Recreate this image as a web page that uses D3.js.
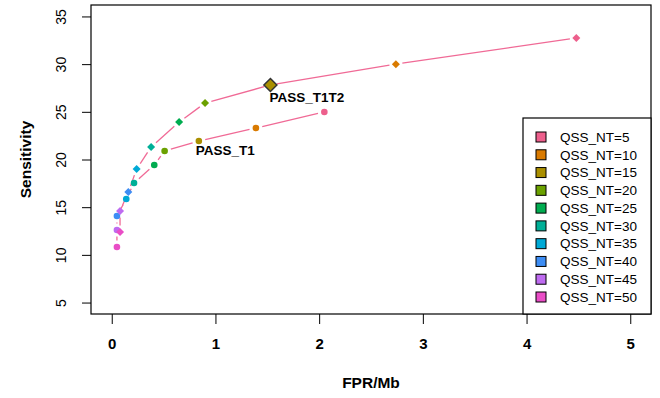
<!DOCTYPE html>
<html>
<head>
<meta charset="utf-8">
<script src="https://cdn.jsdelivr.net/npm/d3@7"></script>
<style>
  body { margin: 0; background: #fff; }
  svg { font-family: 'Liberation Sans', Arial, sans-serif; }
</style>
</head>
<body>
<div id="chart"></div>
<script>
// QSS_NT thresholds and the two filters
const ntLevels = [5, 10, 15, 20, 25, 30, 35, 40, 45, 50]
const ntColors = ['#ED5F8C', '#D97A00', '#AA8F00', '#6BA100', '#00AC50',
  '#00AF97', '#00A9D6', '#3D8DF4', '#BE6BF0', '#E94DC6']

const t1t2Fpr = [4.48, 2.74, 1.53, 0.90, 0.65, 0.38, 0.24, 0.16, 0.08, 0.08]
const t1t2Sens = [32.74, 30.0, 27.81, 25.92, 23.93, 21.31, 19.0, 16.59, 14.6, 12.4]
const t1Fpr = [2.05, 1.39, 0.84, 0.51, 0.41, 0.215, 0.14, 0.05, 0.05, 0.05]
const t1Sens = [24.98, 23.3, 21.94, 20.89, 19.42, 17.54, 15.86, 14.08, 12.61, 10.83]

const xTicks = [0, 1, 2, 3, 4, 5]
const yTicks = [5, 10, 15, 20, 25, 30, 35]

const width = 660
const height = 398
const plot = {left: 91, right: 651, top: 5, bottom: 314}
const lineColor = '#F06A96'

const x = d3.scaleLinear().domain([-0.2, 5.2]).range([plot.left, plot.right])
const y = d3.scaleLinear().domain([3.8, 36.2]).range([plot.bottom, plot.top])

const svg = d3.select('#chart').append('svg')
  .attr('width', width)
  .attr('height', height)

// axes
const xAxis = svg.append('g')
  .attr('transform', `translate(0, ${plot.bottom})`)
  .call(d3.axisBottom(x).tickValues(xTicks).tickSize(10).tickPadding(14).tickFormat(d3.format('d')))
xAxis.select('.domain').remove()
xAxis.selectAll('line').attr('stroke', '#000')
xAxis.selectAll('text')
  .attr('font-size', 15)
  .attr('font-weight', 'bold')
  .attr('font-family', 'Liberation Sans, Arial, sans-serif')
  .attr('fill', '#000')

const yAxis = svg.append('g')
  .attr('transform', `translate(${plot.left}, 0)`)
  .call(d3.axisLeft(y).tickValues(yTicks).tickSize(9).tickFormat(d3.format('d')))
yAxis.select('.domain').remove()
yAxis.selectAll('line').attr('stroke', '#000')
yAxis.selectAll('text')
  .attr('font-size', 14)
  .attr('font-family', 'Liberation Sans, Arial, sans-serif')
  .attr('fill', '#000')
  .attr('text-anchor', 'middle')
  .attr('x', 0)
  .attr('dy', 0)
  .attr('transform', 'translate(-30, 0) rotate(-90)')
  .attr('dominant-baseline', 'central')

svg.append('text')
  .attr('x', (plot.left + plot.right) / 2)
  .attr('y', 388)
  .attr('text-anchor', 'middle')
  .attr('font-size', 15.5)
  .attr('font-weight', 'bold')
  .text('FPR/Mb')

svg.append('text')
  .attr('transform', `translate(31, ${(plot.top + plot.bottom) / 2}) rotate(-90)`)
  .attr('text-anchor', 'middle')
  .attr('font-size', 15.5)
  .attr('font-weight', 'bold')
  .text('Sensitivity')

// lines with gaps around the points (R type = "b")
function gappedSegments(xs, ys, gap) {
  const segs = []
  for (let i = 0; i < xs.length - 1; i++) {
    const x0 = x(xs[i]), y0 = y(ys[i]), x1 = x(xs[i + 1]), y1 = y(ys[i + 1])
    const len = Math.hypot(x1 - x0, y1 - y0)
    if (len <= 2 * gap) continue
    const ux = (x1 - x0) / len, uy = (y1 - y0) / len
    segs.push([x0 + ux * gap, y0 + uy * gap, x1 - ux * gap, y1 - uy * gap])
  }
  return segs
}

const lines = svg.append('g')
;[[t1t2Fpr, t1t2Sens], [t1Fpr, t1Sens]].forEach(([xs, ys]) => {
  lines.selectAll(null).data(gappedSegments(xs, ys, 6.5))
    .enter().append('line')
      .attr('x1', (d) => d[0]).attr('y1', (d) => d[1])
      .attr('x2', (d) => d[2]).attr('y2', (d) => d[3])
      .attr('stroke', lineColor)
      .attr('stroke-width', 1.3)
})

// PASS_T1 points: filled circles
svg.append('g').selectAll('circle').data(ntLevels)
  .enter().append('circle')
    .attr('cx', (d, i) => x(t1Fpr[i]))
    .attr('cy', (d, i) => y(t1Sens[i]))
    .attr('r', 3.3)
    .attr('fill', (d, i) => ntColors[i])

// PASS_T1T2 points: filled diamonds
const diamond = (s) => `M0,${-s}L${s},0L0,${s}L${-s},0Z`
svg.append('g').selectAll('path').data(ntLevels)
  .enter().append('path')
    .attr('d', (d) => d === 15 ? diamond(6.5) : diamond(4))
    .attr('transform', (d, i) => `translate(${x(t1t2Fpr[i])}, ${y(t1t2Sens[i])})`)
    .attr('fill', (d, i) => ntColors[i])
    .attr('stroke', (d) => d === 15 ? '#333' : 'none')
    .attr('stroke-width', 1.5)

// point labels
const i15 = ntLevels.indexOf(15)
svg.append('text')
  .attr('x', x(t1t2Fpr[i15]) - 1)
  .attr('y', y(t1t2Sens[i15]) + 17)
  .attr('font-size', 13.5)
  .attr('font-weight', 'bold')
  .text('PASS_T1T2')
svg.append('text')
  .attr('x', x(t1Fpr[i15]) - 3)
  .attr('y', y(t1Sens[i15]) + 14)
  .attr('font-size', 13.5)
  .attr('font-weight', 'bold')
  .text('PASS_T1')

// plot box
svg.append('rect')
  .attr('x', plot.left).attr('y', plot.top)
  .attr('width', plot.right - plot.left).attr('height', plot.bottom - plot.top)
  .attr('fill', 'none')
  .attr('stroke', '#000')
  .attr('stroke-width', 1.2)

// legend
const legend = svg.append('g')
legend.append('rect')
  .attr('x', 523).attr('y', 118)
  .attr('width', plot.right - 523).attr('height', plot.bottom - 118)
  .attr('fill', '#fff')
  .attr('stroke', '#000')
  .attr('stroke-width', 1.2)
const ly = d3.scalePoint().domain(ntLevels).range([137, 297])
const items = legend.selectAll('.item').data(ntLevels)
  .enter().append('g')
    .attr('transform', (d) => `translate(0, ${ly(d)})`)
items.append('rect')
  .attr('x', 536).attr('y', -5)
  .attr('width', 10).attr('height', 10)
  .attr('fill', (d, i) => ntColors[i])
  .attr('stroke', '#000')
  .attr('stroke-width', 1)
items.append('text')
  .attr('x', 560)
  .attr('dy', '0.35em')
  .attr('font-size', 13.5)
  .text((d) => `QSS_NT=${d}`)
</script>
</body>
</html>
